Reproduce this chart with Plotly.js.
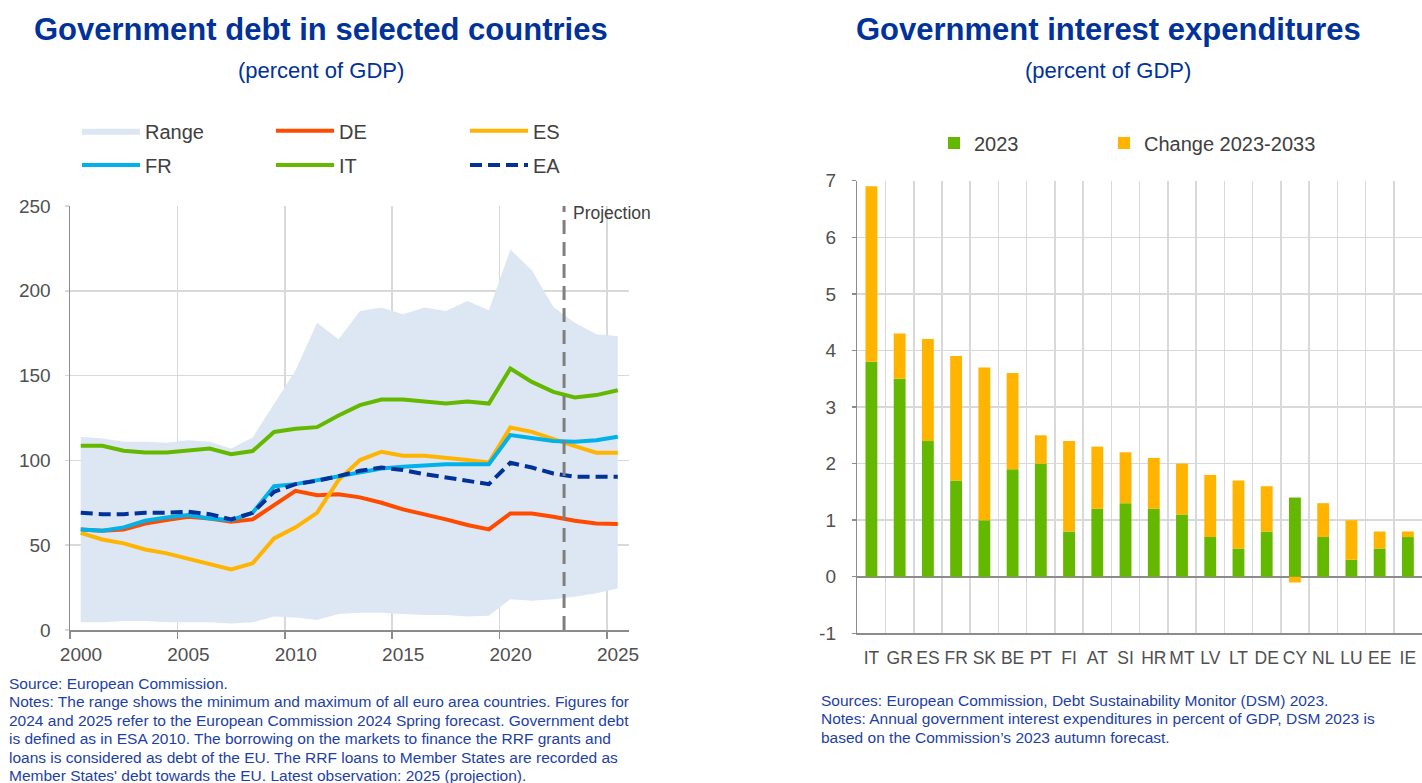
<!DOCTYPE html>
<html>
<head>
<meta charset="utf-8">
<script src="https://cdn.plot.ly/plotly-3.0.1.min.js"></script>
<style>
  html, body { margin: 0; padding: 0; background: #ffffff; }
  #chart { width: 1422px; height: 783px; }
</style>
</head>
<body>
<div id="chart"></div>
<script>
// ---------------- Data: left chart (government debt, % of GDP) ----------------
const years = [2000,2001,2002,2003,2004,2005,2006,2007,2008,2009,2010,2011,2012,
               2013,2014,2015,2016,2017,2018,2019,2020,2021,2022,2023,2024,2025];
const rangeMin = [4.5,4.5,5.3,5.3,4.5,4.5,4.5,3.9,4.5,7.9,7.3,5.9,9.4,
                  10.2,10.2,9.4,8.8,8.8,7.9,8.4,18.1,17.3,18.1,19.6,21.6,24.5];
const rangeMax = [113.9,112.9,111.0,111.0,110.4,111.9,111.0,107.0,113.5,133.5,153.2,181.1,171.4,
                  188.1,190.1,186.2,190.1,188.1,194.0,188.5,224.3,212.1,190.5,181.1,174.4,173.4];
const debtDE = [59.3,58.5,59.3,62.8,64.8,66.8,65.8,63.8,65.2,73.6,82.1,79.5,80.1,
                78.2,75.0,71.1,68.3,65.2,61.9,59.3,68.7,68.7,66.8,64.4,62.8,62.5];
const debtES = [57.3,53.4,51.1,47.5,45.2,42.2,38.9,35.7,39.3,54.0,60.5,69.1,88.4,
                100.2,105.1,102.7,102.7,101.7,100.2,98.8,119.4,116.8,112.3,108.4,104.5,104.5];
const debtFR = [59.3,58.5,60.5,64.4,66.4,67.8,65.8,64.8,69.1,84.8,86.0,88.4,90.7,
                92.7,95.2,96.2,97.2,97.8,97.8,97.8,114.9,112.9,111.5,111.0,111.9,113.9];
const debtIT = [108.6,108.6,105.7,104.7,104.7,105.7,107.0,103.7,105.5,116.8,118.6,119.6,126.5,
                132.6,135.9,135.9,134.9,133.5,134.7,133.5,154.2,146.3,140.4,137.1,138.5,141.4];
const debtEA = [69.1,68.3,68.3,69.1,69.1,69.7,68.3,65.2,69.1,81.5,86.0,88.0,90.7,
                93.9,95.8,94.3,91.9,89.9,88.0,86.0,98.6,95.8,92.3,90.3,90.3,90.3];
const projectionStart = 2023;
const leftTickYears = [2000, 2005, 2010, 2015, 2020, 2025];

// ---------------- Data: right chart (interest expenditures, % of GDP) ----------------
const countries = ['IT','GR','ES','FR','SK','BE','PT','FI','AT','SI',
                   'HR','MT','LV','LT','DE','CY','NL','LU','EE','IE'];
const interest2023 = [3.8,3.5,2.4,1.7,1.0,1.9,2.0,0.8,1.2,1.3,
                      1.2,1.1,0.7,0.5,0.8,1.4,0.7,0.3,0.5,0.7];
const change2023to2033 = [3.1,0.8,1.8,2.2,2.7,1.7,0.5,1.6,1.1,0.9,
                          0.9,0.9,1.1,1.2,0.8,-0.1,0.6,0.7,0.3,0.1];
const rightTicks = [-1, 0, 1, 2, 3, 4, 5, 6, 7];

// ---------------- Text ----------------
const leftTitle = 'Government debt in selected countries';
const rightTitle = 'Government interest expenditures';
const subTitle = '(percent of GDP)';
const leftNotes = [
  'Source: European Commission.',
  'Notes: The range shows the minimum and maximum of all euro area countries. Figures for',
  '2024 and 2025 refer to the European Commission 2024 Spring forecast. Government debt',
  'is defined as in ESA 2010. The borrowing on the markets to finance the RRF grants and',
  'loans is considered as debt of the EU. The RRF loans to Member States are recorded as',
  "Member States' debt towards the EU. Latest observation: 2025 (projection)."
];
const rightNotes = [
  'Sources: European Commission, Debt Sustainability Monitor (DSM) 2023.',
  'Notes: Annual government interest expenditures in percent of GDP, DSM 2023 is',
  "based on the Commission\u2019s 2023 autumn forecast."
];

// ---------------- Styling ----------------
const FONT = 'Liberation Sans, Arial, sans-serif';
const W = 1422, H = 783;
const C = { blue:'#003299', red:'#ff4b00', yellow:'#ffb400', cyan:'#00b1ea',
            green:'#65b800', range:'#dde7f3', grid:'#d9d9d9', axis:'#8c8c8c',
            tick:'#505050', text:'#404040', note:'#1d3fa6' };
const px = v => v / W;            // horizontal pixel -> paper
const py = v => 1 - v / H;        // vertical pixel -> paper

const midYear = years.map(y => y + 0.5);   // annual values drawn at mid-year

function line(name, ys, color, legend, dash) {
  return { type:'scatter', mode:'lines', name, x: midYear, y: ys, xaxis:'x', yaxis:'y',
           legend, line:{ color, width:4, dash: dash || 'solid' }, hoverinfo:'skip' };
}

const traces = [
  { type:'scatter', mode:'lines', x: midYear, y: rangeMin, xaxis:'x', yaxis:'y',
    line:{ width:0, color:C.range }, showlegend:false, hoverinfo:'skip' },
  { type:'scatter', mode:'lines', name:'Range', x: midYear, y: rangeMax, xaxis:'x', yaxis:'y',
    fill:'tonexty', fillcolor:C.range, line:{ width:0, color:C.range }, legend:'legend', hoverinfo:'skip' },
  line('DE', debtDE, C.red, 'legend'),
  line('ES', debtES, C.yellow, 'legend'),
  line('FR', debtFR, C.cyan, 'legend3'),
  line('IT', debtIT, C.green, 'legend3'),
  line('EA', debtEA, C.blue, 'legend3', '12px,6px'),
  { type:'bar', name:'2023', x: countries, y: interest2023, xaxis:'x2', yaxis:'y2',
    marker:{ color:C.green, line:{ width:0 } }, width:0.42, legend:'legend2', legendwidth:125,
    hoverinfo:'skip' },
  { type:'bar', name:'Change 2023-2033', x: countries, y: change2023to2033, xaxis:'x2', yaxis:'y2',
    marker:{ color:C.yellow, line:{ width:0 } }, width:0.42, legend:'legend2', legendwidth:185,
    hoverinfo:'skip' }
];

const leftY = [0, 250], rightY = [-1, 7];
const leftDomY = [py(630), py(206)];
const rightDomY = [py(633.3), py(180.7)];
const zeroPos = rightDomY[0] + (rightDomY[1] - rightDomY[0]) * (0 - rightY[0]) / (rightY[1] - rightY[0]);

const tickFont = { family: FONT, size: 19, color: C.tick };
const legendFont = { family: FONT, size: 20, color: C.text };

const annotations = [
  { text:'<b>' + leftTitle + '</b>', x:px(321), y:py(30), xref:'paper', yref:'paper',
    xanchor:'center', yanchor:'middle',
    showarrow:false, font:{ family:FONT, size:31, color:C.blue } },
  { text:subTitle, x:px(321), y:py(70), xref:'paper', yref:'paper',
    xanchor:'center', yanchor:'middle',
    showarrow:false, font:{ family:FONT, size:22, color:C.blue } },
  { text:'<b>' + rightTitle + '</b>', x:px(1108), y:py(30), xref:'paper', yref:'paper',
    xanchor:'center', yanchor:'middle',
    showarrow:false, font:{ family:FONT, size:31, color:C.blue } },
  { text:subTitle, x:px(1108), y:py(70), xref:'paper', yref:'paper',
    xanchor:'center', yanchor:'middle',
    showarrow:false, font:{ family:FONT, size:22, color:C.blue } },
  { text:'Projection', x:projectionStart, y:leftY[1], xref:'x', yref:'y', xanchor:'left', yanchor:'middle',
    xshift:7, yshift:-7, showarrow:false, font:{ family:FONT, size:17.5, color:C.text } }
];
leftNotes.forEach((t, i) => annotations.push({
  text:t, x:px(7), y:py(683 + i * 18.5), xref:'paper', yref:'paper', xanchor:'left', yanchor:'middle',
  showarrow:false, font:{ family:FONT, size:15.5, color:C.note } }));
rightNotes.forEach((t, i) => annotations.push({
  text:t, x:px(819), y:py(700 + i * 18.7), xref:'paper', yref:'paper', xanchor:'left', yanchor:'middle',
  showarrow:false, font:{ family:FONT, size:15.5, color:C.note } }));

const layout = {
  width: W, height: H,
  margin: { l:0, r:0, t:0, b:0 },
  paper_bgcolor:'#ffffff', plot_bgcolor:'rgba(0,0,0,0)',
  font: { family: FONT, color: C.text },
  barmode: 'relative',
  xaxis: { domain:[px(70), px(628.5)], range:[2000, 2026], type:'linear',
           tickvals: leftTickYears, ticktext: leftTickYears.map(String), ticklabelshift: 11,
           showgrid:true, gridcolor:C.grid, gridwidth:1.5, zeroline:false,
           showline:true, linecolor:C.axis, linewidth:1.5,
           ticks:'outside', ticklen:7, tickwidth:1.5, tickcolor:C.axis, tickfont:tickFont,
           anchor:'y', fixedrange:true },
  yaxis: { domain:leftDomY, range:leftY, dtick:50, tick0:0,
           showgrid:true, gridcolor:C.grid, gridwidth:1.5, zeroline:false,
           showline:true, linecolor:C.axis, linewidth:1.5,
           ticks:'outside', ticklen:4, tickwidth:1.5, tickcolor:C.grid, tickfont:tickFont,
           ticklabelstandoff: 10, anchor:'x', fixedrange:true },
  xaxis2: { domain:[px(857.3), 1], type:'category', categoryorder:'array', categoryarray:countries,
            range:[-0.5, countries.length - 0.5], tickangle:0,
            tickson:'boundaries', showgrid:true, gridcolor:C.grid, gridwidth:1.5,
            showline:true, linecolor:C.axis, linewidth:1.5, ticks:'', zeroline:false,
            tickfont:{ family:FONT, size:17.5, color:C.tick }, ticklabelstandoff: 8,
            anchor:'y2', fixedrange:true },
  xaxis3: { overlaying:'x2', anchor:'free', position: zeroPos, type:'linear',
            range:[-0.5, countries.length - 0.5], tick0:-0.5, dtick:1,
            ticks:'outside', ticklen:6, tickwidth:1.5, tickcolor:C.axis,
            showticklabels:false, showgrid:false, zeroline:false, showline:false, fixedrange:true },
  yaxis2: { domain:rightDomY, range:rightY, tickvals:rightTicks, ticktext:rightTicks.map(String),
            showgrid:true, gridcolor:C.grid, gridwidth:1.5,
            zeroline:true, zerolinecolor:C.axis, zerolinewidth:2,
            showline:true, linecolor:C.axis, linewidth:1.5,
            ticks:'outside', ticklen:4, tickwidth:1.5, tickcolor:C.axis, tickfont:tickFont,
            ticklabelstandoff: 12, anchor:'x2', fixedrange:true },
  legend:  { orientation:'h', x:px(77), xanchor:'left', y:py(130.7), yanchor:'middle',
             itemwidth:58, entrywidth:121, entrywidthmode:'pixels', font:legendFont,
             bgcolor:'rgba(0,0,0,0)', traceorder:'normal' },
  legend3: { orientation:'h', x:px(77), xanchor:'left', y:py(165), yanchor:'middle',
             itemwidth:58, entrywidth:121, entrywidthmode:'pixels', font:legendFont,
             bgcolor:'rgba(0,0,0,0)', traceorder:'normal' },
  legend2: { orientation:'h', x:px(934), xanchor:'left', y:py(143), yanchor:'middle',
             itemwidth:30, font:legendFont,
             bgcolor:'rgba(0,0,0,0)', traceorder:'normal' },
  shapes: [
    { type:'line', xref:'x', yref:'y', x0:projectionStart, x1:projectionStart, y0:leftY[0], y1:leftY[1],
      line:{ color:'#7f7f7f', width:3, dash:'14px,8px' }, layer:'above' }
  ],
  annotations,
  showlegend: true
};

Plotly.newPlot('chart', traces, layout, { displayModeBar:false, staticPlot:true });
</script>
</body>
</html>
